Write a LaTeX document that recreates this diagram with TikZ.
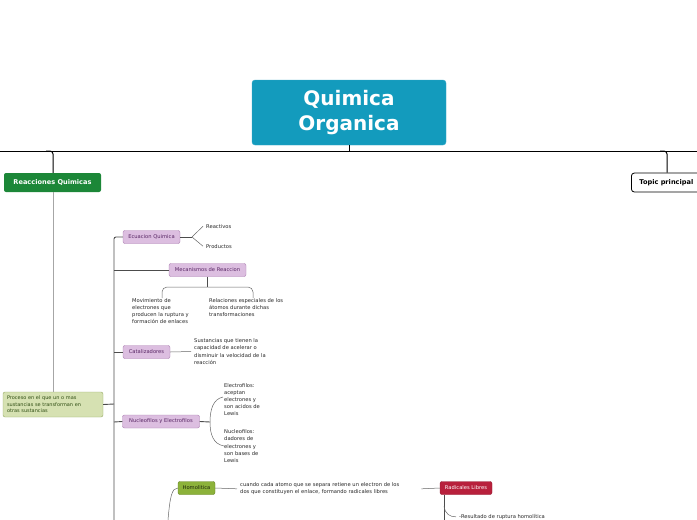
\documentclass[tikz,border=0pt]{standalone}
\usepackage{fontspec}
\setmainfont{DejaVu Sans}
\usetikzlibrary{positioning}
\definecolor{RootTeal}{RGB}{19, 155, 189}
\definecolor{MainGreen}{RGB}{28, 135, 56}
\definecolor{SubPurple}{RGB}{220, 190, 224}
\definecolor{SubPurpleDark}{RGB}{170, 124, 176}
\definecolor{SubPurpleText}{RGB}{88, 38, 100}
\definecolor{PaleGreen}{RGB}{214, 225, 178}
\definecolor{PaleGreenDark}{RGB}{150, 170, 100}
\definecolor{PaleGreenText}{RGB}{48, 78, 20}
\definecolor{OliveGreen}{RGB}{140, 178, 58}
\definecolor{OliveGreenDark}{RGB}{98, 128, 30}
\definecolor{Crimson}{RGB}{184, 32, 60}

\begin{document}
\begin{tikzpicture}[x=1pt, y=-1pt,
  rootbox/.style={fill=RootTeal, draw=RootTeal!85!white, rounded corners=3pt, text=white,
    align=center, font=\bfseries\fontsize{20}{25}\selectfont, minimum width=194pt, minimum height=65pt},
  mainbox/.style={fill=MainGreen, rounded corners=2pt, text=white, inner sep=0pt,
    font=\bfseries\fontsize{6.6}{8}\selectfont, minimum width=97pt, minimum height=19pt},
  plainbox/.style={fill=white, draw=black, line width=0.8pt, rounded corners=3pt, anchor=west,
    font=\bfseries\fontsize{6.6}{8}\selectfont, minimum height=19pt, inner xsep=8pt},
  subbox/.style={fill=SubPurple, draw=SubPurpleDark, rounded corners=2pt, text=SubPurpleText,
    font=\fontsize{5.2}{6}\selectfont, minimum height=13pt, inner xsep=2pt},
  notebox/.style={fill=PaleGreen, draw=PaleGreenDark, rounded corners=2pt, text=PaleGreenText,
    align=left, font=\fontsize{5}{6.6}\selectfont, text width=92pt, minimum height=25pt,
    inner xsep=4pt},
  note/.style={align=left, font=\fontsize{5.2}{7.2}\selectfont, text=black!85,
    inner xsep=3pt, inner ysep=0pt, anchor=north west},
  bar/.style={line width=1pt, black},
  branch/.style={line width=0.9pt, black!70},
  twig/.style={line width=0.5pt, black!60},
]
  \useasboundingbox (0,0) rectangle (697,520);

  % Central topic
  \node[rootbox] (root) at (349,112.5) {Quimica\\Organica};
  \draw[bar] (0,151) -- (697,151);
  \draw[bar] (root.south) -- (349,151);

  % Main topics
  \node[mainbox] (reac) at (52.5,182.5) {Reacciones Quimicas};
  \node[plainbox] (topic) at (631,182.5) {Topic principal};
  \draw[bar, rounded corners=3pt] (46,151) -- (53,151) -- (reac.north -| 53,0);
  \draw[bar, rounded corners=3pt] (660,151) -- (667,151) -- (topic.north -| 667,0);

  % Definition of reaction
  \node[notebox] (proc) at (53,404.5) {Proceso en el que un o mas\\sustancias se transforman en\\otras sustancias};
  \draw[line width=0.8pt, black!35] (reac.south -| 53,0) -- (proc.north -| 53,0);

  % Subtopics
  \node[subbox, minimum width=57pt] (ecu) at (151.5,237) {Ecuacion Quimica};
  \node[subbox, minimum width=77pt] (mec) at (207.5,270) {Mecanismos de Reaccion};
  \node[subbox, minimum width=47pt] (cat) at (146.5,352) {Catalizadores};
  \node[subbox, minimum width=77pt] (nuc) at (161,421.5) {Nucleofilos y Electrofilos};
  \draw[branch] (proc.east) -- (114,404);
  \draw[branch, rounded corners=2pt] (ecu.west) -- (114,237) -- (114,520);
  \draw[branch] (114,270) -- (mec.west);
  \draw[branch] (114,352) -- (cat.west);
  \draw[branch] (114,422) -- (nuc.west);

  % Ecuacion Quimica
  \coordinate (fan) at (192,237);
  \node[note] (reactivos) at (203,224) {Reactivos};
  \node[note] (productos) at (203,244) {Productos};
  \draw[branch] (ecu.east) -- (fan);
  \draw[twig] (fan) -- (reactivos.west);
  \draw[twig] (fan) -- (productos.west);

  % Mecanismos de Reaccion
  \draw[branch] (mec.south) -- (207.5,287);
  \draw[twig, rounded corners=5pt] (162,298) -- (162,287) -- (253,287) -- (253,298);
  \node[note] (movim) at (129,298) {Movimiento de\\electrones que\\producen la ruptura y\\formación de enlaces};
  \node[note] (relac) at (206,298) {Relaciones especiales de los\\átomos durante dichas\\transformaciones};

  % Catalizadores
  \node[note] (sust) at (191,338.5) {Sustancias que tienen la\\capacidad de acelerar o\\disminuir la velocidad de la\\reacción};
  \draw[twig] (cat.east) -- (sust.west);

  % Nucleofilos y Electrofilos
  \coordinate (brace) at (210,422);
  \node[note] (electro) at (221,383) {Electrofilos:\\aceptan\\electrones y\\son acidos de\\Lewis};
  \node[note] (nucleo) at (221,429.5) {Nucleofilos:\\dadores de\\electrones y\\son bases de\\Lewis};
  \draw[branch] (nuc.east) -- (brace);
  \draw[twig] (223,397) .. controls (213,399) and (210,410) .. (brace)
    .. controls (210,434) and (213,444) .. (224,446);

  % Homolitica
  \node[subbox, fill=OliveGreen, draw=OliveGreenDark, text=black!80!OliveGreen, minimum width=37pt] (homo) at (196.5,488) {Homolitica};
  \coordinate (low) at (168,520);
  \draw[twig] (low) .. controls (170,496) and (172,488) .. (homo.west);
  \node[note, text width=178pt] (homotxt) at (237,482.5) {cuando cada atomo que se separa retiene un electron de los\\dos que constituyen el enlace, formando radicales libres};
  \draw[twig] (homo.east) -- (homotxt.west);

  % Radicales Libres
  \node[subbox, fill=Crimson, draw=Crimson!80!black, text=white, minimum width=52pt] (radi) at (466,488) {Radicales Libres};
  \draw[twig] (homotxt.east) -- (radi.west);
  \node[note] (resul) at (456,514) {-Resultado de ruptura homolítica};
  \draw[branch] (444,494.5) -- (444,520);
  \draw[twig] (444,506) .. controls (445,514) and (450,517) .. (resul.west);
\end{tikzpicture}
\end{document}
